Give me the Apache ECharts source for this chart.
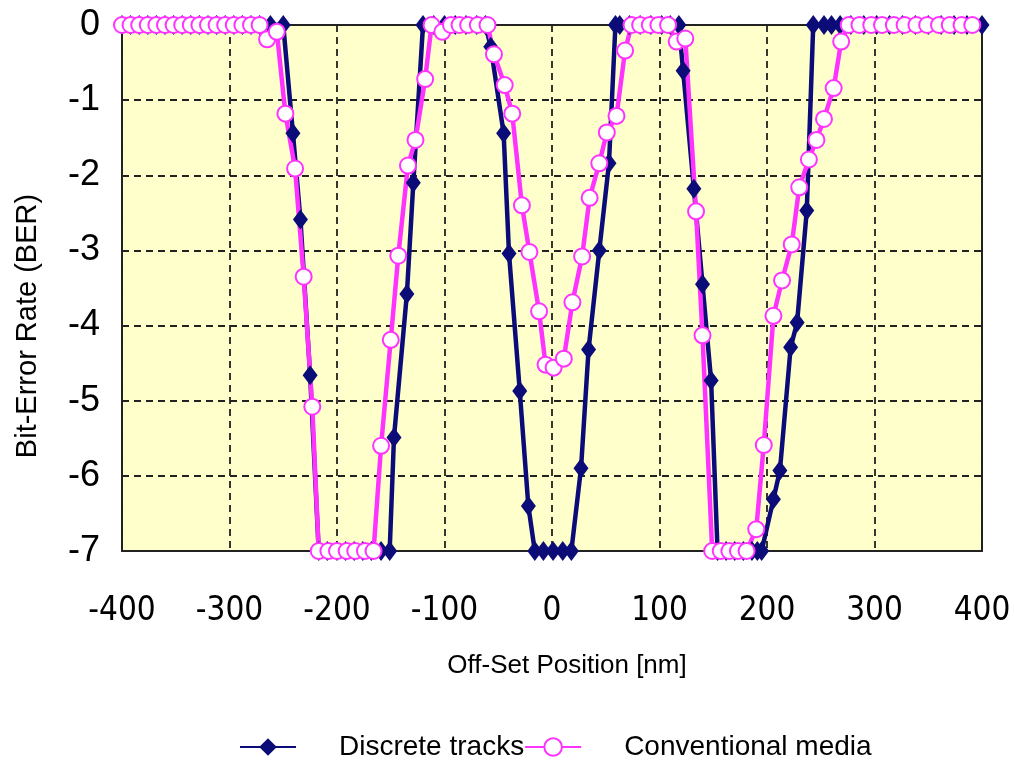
<!DOCTYPE html>
<html>
<head>
<meta charset="utf-8">
<script src="https://cdn.jsdelivr.net/npm/echarts@6/dist/echarts.min.js"></script>
<style>
  html, body { margin: 0; padding: 0; background: #fff; }
  #main { width: 1014px; height: 762px; }
</style>
</head>
<body>
<div id="main"></div>
<script>
// off-set position [nm] and log BER
const discreteX = [-400, -392, -384, -376, -368, -360, -352, -344, -336, -328, -320, -312, -304, -296, -288, -280, -272, -262, -250,
  -241, -234, -225, -217, -209, -200, -192, -184, -176, -168, -159, -151, -147, -135, -129, -120,
  -110, -100, -90, -80, -70, -62, -57, -45, -40, -30, -22, -16, -8, 1, 10, 18, 27, 34, 44, 53, 59, 63,
  72, 82, 92, 102, 110, 118, 122, 132, 140, 148, 154, 162, 170, 178, 186, 191, 195, 206, 212, 222, 228, 237,
  243, 253, 260, 268, 278, 290, 302, 314, 326, 338, 350, 362, 374, 386, 400];
const discreteY = [0, 0, 0, 0, 0, 0, 0, 0, 0, 0, 0, 0, 0, 0, 0, 0, 0, 0, 0,
  -1.44, -2.59, -4.66, -7, -7, -7, -7, -7, -7, -7, -7, -7, -5.49, -3.58, -2.1, 0,
  0, 0, 0, 0, 0, 0, -0.29, -1.44, -3.04, -4.87, -6.4, -7, -7, -7, -7, -7, -5.9, -4.32, -3.0, -1.84, 0, 0,
  0, 0, 0, 0, 0, 0, -0.61, -2.18, -3.45, -4.73, -7, -7, -7, -7, -7, -7, -7, -6.31, -5.93, -4.29, -3.96, -2.47,
  0, 0, 0, 0, 0, 0, 0, 0, 0, 0, 0, 0, 0, 0, 0];

const conventionalX = [-400, -392, -384, -376, -368, -360, -352, -344, -336, -328, -320, -312, -304, -296, -288, -280, -272,
  -265, -256, -248, -239, -231, -223, -217, -208, -200, -191, -183, -174, -166, -159, -150, -143, -134, -127, -118,
  -112, -102, -94, -86, -78, -69, -60, -54, -44, -37, -28, -21, -12, -6, 1.5, 11, 19, 28, 35, 44, 51, 60, 68,
  74, 82, 91, 99, 108, 116, 124, 134, 140, 149, 157, 165, 173, 181, 190, 197, 206, 214, 223, 230, 239, 246, 253, 262, 269,
  276, 286, 297, 307, 318, 328, 339, 349, 360, 370, 381, 391];
const conventionalY = [0, 0, 0, 0, 0, 0, 0, 0, 0, 0, 0, 0, 0, 0, 0, 0, 0,
  -0.19, -0.09, -1.18, -1.91, -3.35, -5.08, -7, -7, -7, -7, -7, -7, -7, -5.6, -4.19, -3.07, -1.87, -1.53, -0.72,
  0, -0.09, 0, 0, 0, 0, 0, -0.39, -0.8, -1.18, -2.4, -3.02, -3.81, -4.52, -4.56, -4.44, -3.69, -3.08, -2.3, -1.84, -1.43, -1.21, -0.34,
  0, 0, 0, 0, 0, -0.22, -0.18, -2.48, -4.13, -7, -7, -7, -7, -7, -6.71, -5.59, -3.87, -3.4, -2.92, -2.16, -1.79, -1.53, -1.25, -0.84, -0.22,
  0, 0, 0, 0, 0, 0, 0, 0, 0, 0, 0, 0];

const xTicks = [-400, -300, -200, -100, 0, 100, 200, 300, 400];
const yTicks = [0, -1, -2, -3, -4, -5, -6, -7];

const NAVY = '#0c0c78';
const PINK = '#ff33ff';

const pairs = (xs, ys) => xs.map((x, i) => [x, ys[i]]);

const chart = echarts.init(document.getElementById('main'));
chart.setOption({
  animation: false,
  textStyle: { fontFamily: 'Liberation Sans, Arial, sans-serif', color: '#000' },
  grid: {
    left: 122, top: 25, width: 860, height: 526,
    show: true, backgroundColor: '#ffffcc', borderColor: '#222', borderWidth: 2
  },
  legend: {
    left: 234, top: 728,
    itemWidth: 56, itemHeight: 22, itemGap: 0,
    textStyle: { fontSize: 28, color: '#000', padding: [0, 0, 0, 38] },
    data: ['Discrete tracks', 'Conventional media']
  },
  xAxis: {
    type: 'value',
    min: xTicks[0], max: xTicks[xTicks.length - 1], interval: 100,
    name: 'Off-Set Position [nm]',
    nameLocation: 'middle', nameGap: 102,
    nameTextStyle: { fontSize: 26, color: '#000', padding: [0, 0, 0, 30] },
    axisLine: { show: false },
    axisTick: { show: false },
    axisLabel: { fontSize: 33, fontFamily: 'DejaVu Sans Condensed, Liberation Sans, sans-serif', color: '#000', margin: 44 },
    splitLine: { lineStyle: { color: '#222', type: [7, 5], width: 1.8 } }
  },
  yAxis: {
    type: 'value',
    min: yTicks[yTicks.length - 1], max: yTicks[0], interval: 1,
    name: 'Bit-Error Rate (BER)',
    nameLocation: 'middle', nameGap: 80,
    nameTextStyle: { fontSize: 29, color: '#000', padding: [0, 76, 0, 0] },
    axisLine: { show: false },
    axisTick: { show: false },
    axisLabel: { fontSize: 36, color: '#000', margin: 22 },
    splitLine: { lineStyle: { color: '#222', type: [7, 5], width: 1.8 } }
  },
  series: [
    {
      name: 'Discrete tracks',
      type: 'line',
      data: pairs(discreteX, discreteY),
      clip: false,
      color: NAVY,
      lineStyle: { width: 4.5, color: NAVY },
      symbol: 'diamond', symbolSize: [15, 20],
      itemStyle: { color: NAVY, borderWidth: 0 }
    },
    {
      name: 'Conventional media',
      type: 'line',
      data: pairs(conventionalX, conventionalY),
      clip: false,
      color: PINK,
      lineStyle: { width: 4.5, color: PINK },
      symbol: 'circle', symbolSize: 16,
      itemStyle: { color: '#fff', borderColor: PINK, borderWidth: 2 }
    }
  ]
});
</script>
</body>
</html>
